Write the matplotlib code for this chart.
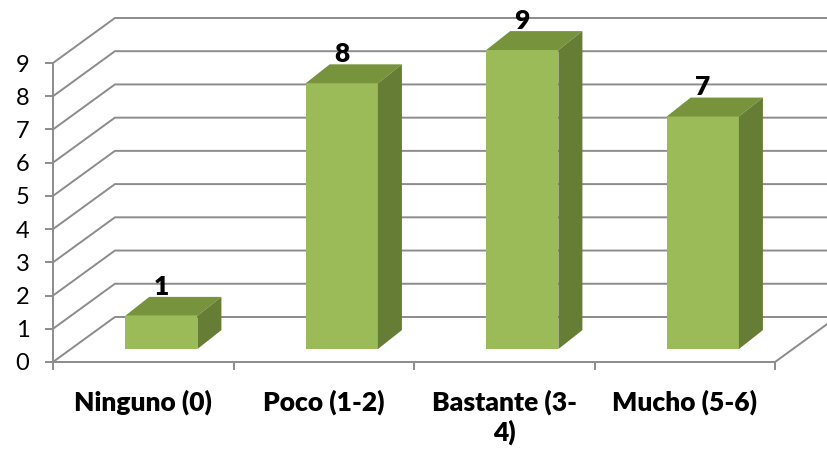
import matplotlib
matplotlib.use("Agg")
import matplotlib.pyplot as plt
from matplotlib.patches import Polygon

plt.rcParams['font.family'] = ['Lato', 'DejaVu Sans']

# datos
categorias = ['Ninguno (0)', 'Poco (1-2)', 'Bastante (3-\n4)', 'Mucho (5-6)']
valores = [1, 8, 9, 7]
yticks = list(range(0, 10))

# colores estilo Excel
c_front = '#9bbb59'
c_top = '#77933c'
c_side = '#657d35'
c_grid = '#8c8c8c'

# profundidad de la pared de fondo y de las barras (unidades de datos)
wall_dx, wall_dy = 0.343, 1.355
off_x, off_y = 0.10, 0.39
bar_dx, bar_dy = 0.133, 0.57
ancho = 0.40

fig = plt.figure(figsize=(8.27, 4.5), dpi=100)
ax = fig.add_axes([53 / 827, 88 / 450, 722 / 827, 299 / 450])
ax.set_xlim(-0.5, 3.5)
ax.set_ylim(0, 9)

# rejilla en "3D"
x0, x1 = -0.5, len(categorias) - 0.5
for v in yticks:
    ax.plot([x0, x0 + wall_dx, x1 + wall_dx + 1], [v, v + wall_dy, v + wall_dy],
            color=c_grid, lw=1.4, clip_on=False, zorder=1)
ax.plot([x1, x1 + wall_dx], [0, wall_dy], color=c_grid, lw=1.4, clip_on=False, zorder=1)

# barras
for i, v in enumerate(valores):
    xa = i - ancho / 2 + off_x
    xb = i + ancho / 2 + off_x
    ax.bar(i + off_x, v, width=ancho, bottom=off_y, color=c_front, zorder=3, clip_on=False)
    top = [(xa, off_y + v), (xb, off_y + v), (xb + bar_dx, off_y + v + bar_dy), (xa + bar_dx, off_y + v + bar_dy)]
    side = [(xb, off_y), (xb + bar_dx, off_y + bar_dy), (xb + bar_dx, off_y + v + bar_dy), (xb, off_y + v)]
    ax.add_patch(Polygon(top, closed=True, fc=c_top, ec='none', zorder=3, clip_on=False))
    ax.add_patch(Polygon(side, closed=True, fc=c_side, ec='none', zorder=3, clip_on=False))
    ax.text(i + off_x, off_y + v + bar_dy - 0.05, str(v), ha='center', va='bottom',
            fontsize=19, fontweight='heavy', zorder=4, clip_on=False)

# ejes
for s in ['top', 'right']:
    ax.spines[s].set_visible(False)
for s in ['left', 'bottom']:
    ax.spines[s].set_color(c_grid)
    ax.spines[s].set_linewidth(1.4)
ax.set_yticks(yticks)
ax.set_yticklabels([str(t) for t in yticks], fontsize=17)
ax.tick_params(axis='y', length=6, width=1.4, color=c_grid, pad=11)
ax.set_xticks(range(len(categorias)))
ax.set_xticklabels(categorias, fontsize=19, fontweight='heavy', linespacing=1.2)
ax.tick_params(axis='x', which='major', length=0, pad=20)
ax.set_xticks([x0 + k for k in range(len(categorias) + 1)], minor=True)
ax.tick_params(axis='x', which='minor', length=6, width=1.4, color=c_grid)
ax.patch.set_visible(False)

fig.savefig('out.png', dpi=100)
